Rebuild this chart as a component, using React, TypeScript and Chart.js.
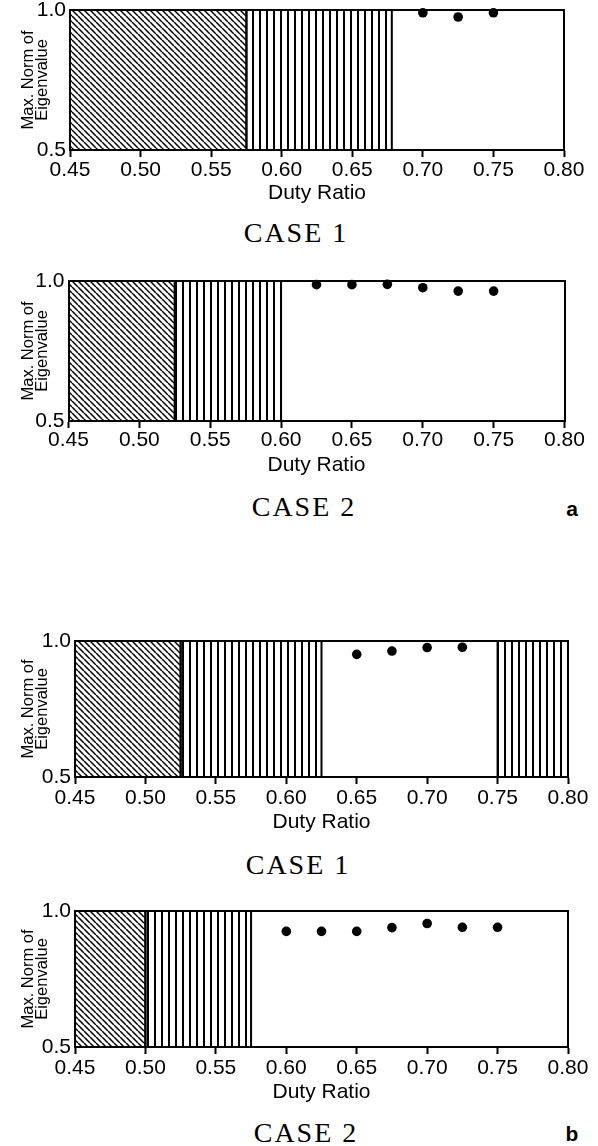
import React, { useEffect, useRef } from "react";
import { Chart, registerables } from "chart.js";

Chart.register(...registerables);

// ---------- shared axis content ----------
const X_TICKS = [0.45, 0.5, 0.55, 0.6, 0.65, 0.7, 0.75, 0.8];
const X_TICK_LABELS = ["0.45", "0.50", "0.55", "0.60", "0.65", "0.70", "0.75", "0.80"];
const Y_TICKS = [0.5, 1.0];
const Y_TICK_LABELS = ["0.5", "1.0"];
const X_TITLE = "Duty Ratio";
const Y_TITLE = ["Max. Norm of", "Eigenvalue"];

// ---------- panel a, CASE 1 ----------
const A1_HATCH = [0.45, 0.575];
const A1_STRIPES = [[0.575, 0.678]];
const A1_DUTY = [0.7, 0.725, 0.75];
const A1_NORM = [0.99, 0.975, 0.99];

// ---------- panel a, CASE 2 ----------
const A2_HATCH = [0.45, 0.525];
const A2_STRIPES = [[0.525, 0.6]];
const A2_DUTY = [0.625, 0.65, 0.675, 0.7, 0.725, 0.75];
const A2_NORM = [0.987, 0.987, 0.988, 0.976, 0.964, 0.964];

// ---------- panel b, CASE 1 ----------
const B1_HATCH = [0.45, 0.525];
const B1_STRIPES = [[0.525, 0.625], [0.75, 0.8]];
const B1_DUTY = [0.65, 0.675, 0.7, 0.725];
const B1_NORM = [0.951, 0.963, 0.976, 0.977];

// ---------- panel b, CASE 2 ----------
const B2_HATCH = [0.45, 0.5];
const B2_STRIPES = [[0.5, 0.575]];
const B2_DUTY = [0.6, 0.625, 0.65, 0.675, 0.7, 0.725, 0.75];
const B2_NORM = [0.925, 0.925, 0.925, 0.939, 0.954, 0.94, 0.94];

const CASE_LABELS = ["CASE 1", "CASE 2", "CASE 1", "CASE 2"];
const PANEL_TAGS = ["a", "b"];

// ---------- layout (page pixels) ----------
const LAYOUT = [
  { left: 70, right: 564, top: 9.5, bottom: 149.5, labelY: 170, titleY: 193, caseX: 296, caseY: 233 },
  { left: 68.5, right: 564.5, top: 281, bottom: 421, labelY: 440, titleY: 465, caseX: 304, caseY: 506.5 },
  { left: 75, right: 568, top: 641, bottom: 777, labelY: 798, titleY: 822.5, caseX: 298, caseY: 865 },
  { left: 75, right: 568, top: 911, bottom: 1047, labelY: 1068, titleY: 1092.5, caseX: 306, caseY: 1133 },
];
const TAG_POS = [
  { x: 572, y: 508 },
  { x: 572, y: 1133 },
];

const PANELS = [
  { hatch: A1_HATCH, stripes: A1_STRIPES, duty: A1_DUTY, norm: A1_NORM },
  { hatch: A2_HATCH, stripes: A2_STRIPES, duty: A2_DUTY, norm: A2_NORM },
  { hatch: B1_HATCH, stripes: B1_STRIPES, duty: B1_DUTY, norm: B1_NORM },
  { hatch: B2_HATCH, stripes: B2_STRIPES, duty: B2_DUTY, norm: B2_NORM },
];

const SANS = "'Liberation Sans', Arial, Helvetica, sans-serif";
const SERIF = "'Liberation Serif', 'Times New Roman', serif";
const PAGE_W = 598;
const PAD_TOP = 18;
const TICK_LEN = 7;
const TICK_FONT = 21;

function makeHatch(ctx: CanvasRenderingContext2D) {
  const s = 6;
  const c = document.createElement("canvas");
  c.width = s;
  c.height = s;
  const g = c.getContext("2d")!;
  g.strokeStyle = "#000";
  g.lineWidth = 1.5;
  g.beginPath();
  for (const o of [-s, 0, s]) {
    g.moveTo(o, 0);
    g.lineTo(o + s, s);
  }
  g.stroke();
  return ctx.createPattern(c, "repeat")!;
}

function makeStripes(ctx: CanvasRenderingContext2D) {
  const w = 7;
  const c = document.createElement("canvas");
  c.width = w;
  c.height = 4;
  const g = c.getContext("2d")!;
  g.fillStyle = "#000";
  g.fillRect(0, 0, 2, 4);
  return ctx.createPattern(c, "repeat")!;
}

function rect(x0: number, x1: number) {
  return [
    { x: x0, y: 0.5 },
    { x: x0, y: 1.0 },
    { x: x1, y: 1.0 },
    { x: x1, y: 0.5 },
  ];
}

function Panel({ idx }: { idx: number }) {
  const ref = useRef<HTMLCanvasElement>(null);
  const L = LAYOUT[idx];
  const P = PANELS[idx];
  const canvasTop = L.top - PAD_TOP;
  const H = Math.round(L.titleY + 16 - canvasTop);

  useEffect(() => {
    const canvas = ref.current!;
    const ctx = canvas.getContext("2d")!;
    const hatch = makeHatch(ctx);
    const stripes = makeStripes(ctx);

    const half = (TICK_FONT * 1.2) / 2;
    const xAxisH = H - (L.bottom - canvasTop);
    const labelPad = L.labelY - L.bottom - TICK_LEN - half;
    const titlePadBottom = H - (L.titleY - canvasTop) - half;

    const datasets: any[] = [];
    datasets.push({
      data: P.duty.map((d, i) => ({ x: d, y: P.norm[i] })),
      pointRadius: 4.8,
      pointBackgroundColor: "#000",
      pointBorderWidth: 0,
      showLine: false,
      clip: false,
    });
    datasets.push({
      data: rect(P.hatch[0], P.hatch[1]),
      showLine: true,
      fill: "start",
      backgroundColor: hatch,
      borderColor: "#000",
      borderWidth: 2,
      pointRadius: 0,
      tension: 0,
    });
    P.stripes.forEach((s) => {
      datasets.push({
        data: rect(s[0], s[1]),
        showLine: true,
        fill: "start",
        backgroundColor: stripes,
        borderColor: "#000",
        borderWidth: 2,
        pointRadius: 0,
        tension: 0,
      });
    });

    const chart = new Chart(canvas, {
      type: "scatter",
      data: { datasets },
      options: {
        animation: false,
        responsive: false,
        devicePixelRatio: 1,
        events: [],
        layout: { padding: { top: PAD_TOP, right: PAGE_W - L.right, bottom: 0, left: 0 } },
        plugins: { legend: { display: false }, tooltip: { enabled: false }, title: { display: false } },
        scales: {
          x: {
            type: "linear",
            position: "bottom",
            min: 0.45,
            max: 0.8,
            afterBuildTicks: (s: any) => {
              s.ticks = X_TICKS.map((v) => ({ value: v }));
            },
            afterFit: (s: any) => {
              s.height = xAxisH;
            },
            ticks: {
              autoSkip: false,
              maxRotation: 0,
              minRotation: 0,
              padding: labelPad,
              color: "#000",
              font: { family: SANS, size: TICK_FONT, lineHeight: 1.2 },
              callback: (_v: any, i: number) => X_TICK_LABELS[i],
            },
            grid: {
              display: true,
              drawOnChartArea: false,
              drawTicks: true,
              tickLength: TICK_LEN,
              tickWidth: 2,
              tickColor: "#000",
            },
            border: { display: true, color: "#000", width: 2 },
            title: {
              display: true,
              text: X_TITLE,
              color: "#000",
              font: { family: SANS, size: TICK_FONT, lineHeight: 1.2 },
              padding: { top: 0, bottom: titlePadBottom },
            },
          },
          y: {
            type: "linear",
            position: "left",
            min: 0.5,
            max: 1.0,
            afterBuildTicks: (s: any) => {
              s.ticks = Y_TICKS.map((v) => ({ value: v }));
            },
            afterFit: (s: any) => {
              s.width = L.left;
            },
            ticks: {
              padding: 4,
              color: "#000",
              font: { family: SANS, size: TICK_FONT, lineHeight: 1.2 },
              callback: (_v: any, i: number) => Y_TICK_LABELS[i],
            },
            grid: { display: false, drawTicks: false },
            border: { display: true, color: "#000", width: 2 },
            title: {
              display: true,
              text: Y_TITLE,
              color: "#000",
              font: { family: SANS, size: 16.5, lineHeight: 0.82 },
              padding: { top: 22, bottom: 0 },
            },
          },
          xTop: {
            type: "linear",
            position: "top",
            min: 0.45,
            max: 0.8,
            ticks: { display: false },
            grid: { display: false, drawTicks: false },
            border: { display: true, color: "#000", width: 2 },
            afterFit: (s: any) => {
              s.height = 0;
            },
          },
          yRight: {
            type: "linear",
            position: "right",
            min: 0.5,
            max: 1.0,
            ticks: { display: false },
            grid: { display: false, drawTicks: false },
            border: { display: true, color: "#000", width: 2 },
            afterFit: (s: any) => {
              s.width = 0;
            },
          },
        },
      },
    } as any);
    return () => chart.destroy();
  }, [idx]);

  return (
    <canvas
      ref={ref}
      width={PAGE_W}
      height={H}
      style={{ position: "absolute", left: 0, top: canvasTop, width: PAGE_W, height: H, display: "block" }}
    />
  );
}

export default function App() {
  return (
    <div
      style={{
        position: "absolute",
        left: 0,
        top: 0,
        width: PAGE_W,
        height: 1146,
        overflow: "hidden",
        background: "#fff",
      }}
    >
      {PANELS.map((_, i) => (
        <Panel key={i} idx={i} />
      ))}
      {LAYOUT.map((L, i) => (
        <div
          key={"c" + i}
          style={{
            position: "absolute",
            left: L.caseX,
            top: L.caseY,
            transform: "translate(-50%, -50%)",
            fontFamily: SERIF,
            fontSize: 28,
            letterSpacing: "2px",
            lineHeight: 1,
            whiteSpace: "nowrap",
            color: "#000",
          }}
        >
          {CASE_LABELS[i]}
        </div>
      ))}
      {TAG_POS.map((t, i) => (
        <div
          key={"t" + i}
          style={{
            position: "absolute",
            left: t.x,
            top: t.y,
            transform: "translate(-50%, -50%)",
            fontFamily: SANS,
            fontWeight: "bold",
            fontSize: 21,
            lineHeight: 1,
            color: "#000",
          }}
        >
          {PANEL_TAGS[i]}
        </div>
      ))}
    </div>
  );
}
